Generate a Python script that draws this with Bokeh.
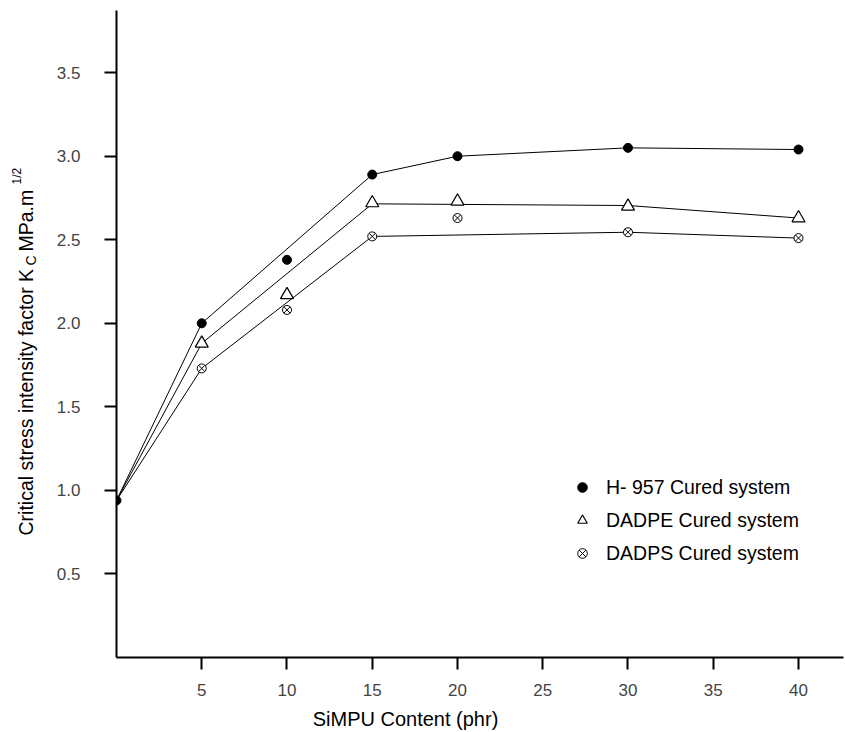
from bokeh.plotting import figure
from bokeh.models import (Range1d, FixedTicker, Label, Legend, LegendItem,
                          PrintfTickFormatter)
from bokeh.layouts import row, column
from bokeh.embed import file_html
from bokeh.resources import INLINE
import math

# ---- data ----
x_ticks = [5, 10, 15, 20, 25, 30, 35, 40]
y_ticks = [0.5, 1.0, 1.5, 2.0, 2.5, 3.0, 3.5]

# measured points
h957_x = [0, 5, 10, 15, 20, 30, 40]
h957_y = [0.94, 2.00, 2.38, 2.89, 3.00, 3.05, 3.04]
dadpe_x = [5, 10, 15, 20, 30, 40]
dadpe_y = [1.88, 2.17, 2.72, 2.73, 2.70, 2.63]
dadps_x = [5, 10, 15, 20, 30, 40]
dadps_y = [1.73, 2.08, 2.52, 2.63, 2.545, 2.51]

# drawn trend lines
h957_fit_x = [0, 5, 15, 20, 30, 40]
h957_fit_y = [0.94, 2.00, 2.89, 3.00, 3.05, 3.04]
dadpe_fit_x = [0, 5, 15, 30, 40]
dadpe_fit_y = [0.94, 1.88, 2.715, 2.705, 2.63]
dadps_fit_x = [0, 5, 15, 30, 40]
dadps_fit_y = [0.94, 1.73, 2.52, 2.545, 2.51]

series_labels = ["H- 957 Cured system", "DADPE Cured system", "DADPS Cured system"]
x_title = "SiMPU Content (phr)"
y_title_main = "Critical stress intensity factor K"
y_title_sub = "C"
y_title_unit = "MPa.m"
y_title_sup = "1/2"

FONT = "Liberation Sans"
TICKFONT = "Liberation Sans"
TOP_H = 701
BOT_H = 30
LEFT_W = 48
FRAME_BOTTOM = 657   # page y of plot frame bottom

# ---- main plot ----
p = figure(width=845 - 1 - LEFT_W, height=TOP_H, output_backend="svg", toolbar_location=None,
           x_range=Range1d(0, 42.64), y_range=Range1d(0, 3.872),
           min_border_left=116 - LEFT_W, min_border_right=1, min_border_top=10,
           min_border_bottom=TOP_H - FRAME_BOTTOM)
p.outline_line_color = None
p.grid.visible = False

for ax in (p.xaxis[0], p.yaxis[0]):
    ax.axis_line_width = 2
    ax.axis_line_color = "black"
    ax.major_tick_line_width = 2
    ax.major_tick_line_color = "black"
    ax.major_tick_in = 0
    ax.major_tick_out = 12
    ax.minor_tick_line_color = None
    ax.major_label_text_font = TICKFONT
    ax.major_label_text_font_size = "17px"
    ax.major_label_text_color = "#444444"

p.xaxis[0].ticker = FixedTicker(ticks=x_ticks)
p.yaxis[0].ticker = FixedTicker(ticks=y_ticks)
p.yaxis[0].formatter = PrintfTickFormatter(format="%.1f")
p.xaxis[0].major_label_standoff = 14
p.yaxis[0].major_label_standoff = 24

for fx, fy in ((h957_fit_x, h957_fit_y), (dadpe_fit_x, dadpe_fit_y), (dadps_fit_x, dadps_fit_y)):
    p.line(fx, fy, line_color="black", line_width=1)

r1 = p.scatter(h957_x, h957_y, marker="circle", size=9, fill_color="black", line_color="black")
r2 = p.scatter(dadpe_x, dadpe_y, marker="triangle", size=13, fill_color="white",
               line_color="black", line_width=1.2)
r3 = p.scatter(dadps_x, dadps_y, marker="circle_x", size=9, fill_color="white",
               line_color="black", line_width=1)

legend = Legend(items=[LegendItem(label=series_labels[0], renderers=[r1]),
                       LegendItem(label=series_labels[1], renderers=[r2]),
                       LegendItem(label=series_labels[2], renderers=[r3])],
                location=(454, 92), orientation="vertical")
legend.border_line_color = None
legend.background_fill_alpha = 0
legend.padding = 0
legend.margin = 0
legend.spacing = 9
legend.glyph_width = 24
legend.glyph_height = 24
legend.label_height = 20
legend.label_standoff = 12
legend.label_text_font = FONT
legend.label_text_font_size = "19.5px"
legend.label_text_color = "black"
p.add_layout(legend, "center")

# ---- left strip holding the rotated y title ----
q = figure(width=LEFT_W, height=TOP_H, output_backend="svg", toolbar_location=None,
           x_range=Range1d(0, 1), y_range=Range1d(0, 1),
           x_axis_type=None, y_axis_type=None,
           min_border_left=0, min_border_right=0, min_border_top=10,
           min_border_bottom=TOP_H - FRAME_BOTTOM)
q.outline_line_color = None

rot = math.pi / 2
def ylab(text, x, page_y, size):
    q.add_layout(Label(x=x, y=FRAME_BOTTOM - page_y, x_units="screen", y_units="screen",
                       text=text, angle=rot, text_align="left", text_baseline="alphabetic",
                       text_font=FONT, text_font_size=size, text_color="black"))

ylab(y_title_main, 25, 535, "19.5px")
ylab(y_title_sub, 30, 265, "14px")
ylab(y_title_unit, 25, 251, "19.5px")
ylab(y_title_sup, 16, 184, "12px")

# ---- bottom strip holding the x title ----
s = figure(width=845 - 1, height=BOT_H, output_backend="svg", toolbar_location=None,
           x_range=Range1d(0, 1), y_range=Range1d(0, 1),
           x_axis_type=None, y_axis_type=None,
           min_border_left=0, min_border_right=0, min_border_top=0, min_border_bottom=0)
s.outline_line_color = None
s.add_layout(Label(x=405, y=BOT_H - (718 - TOP_H), x_units="screen", y_units="screen",
                   text=x_title, text_align="center", text_baseline="middle",
                   text_font=FONT, text_font_size="20px", text_color="black"))

layout = column(row(q, p, spacing=0), s, spacing=0)
open("out.html", "w").write(file_html(layout, INLINE))
